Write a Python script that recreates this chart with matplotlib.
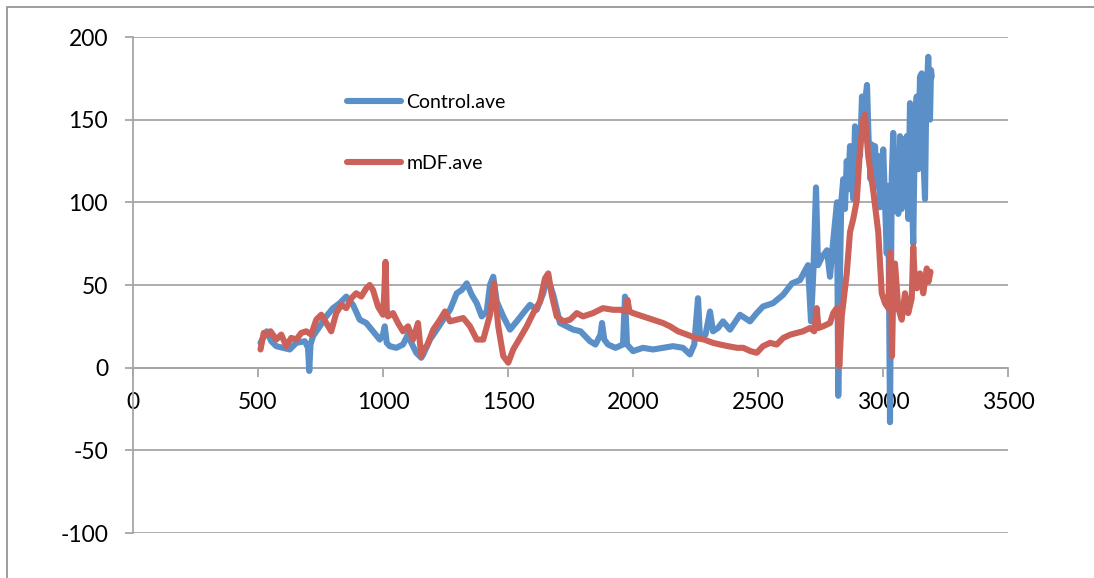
import matplotlib
matplotlib.use("Agg")
import matplotlib.pyplot as plt
from matplotlib.patches import Rectangle

# values (x = position, y = average)
control_x = [510, 520, 535, 553, 573, 600, 627, 653, 687, 700, 705, 710, 720, 747, 773, 800, 827, 853, 880, 907,
             933, 960, 987, 1000, 1007, 1015, 1027, 1053, 1080, 1100, 1107, 1133, 1153, 1161, 1188, 1215, 1241, 1268,
             1295, 1315, 1335, 1355, 1375, 1395, 1415, 1428, 1441, 1455, 1481, 1508, 1535, 1561, 1588, 1615, 1641,
             1655, 1668, 1681, 1708, 1735, 1761, 1790, 1828, 1850, 1870, 1876, 1885, 1900, 1930, 1960, 1968, 1976,
             2000, 2040, 2080, 2120, 2160, 2200, 2228, 2245, 2260, 2268, 2290, 2308, 2320, 2340, 2360, 2388, 2428,
             2468, 2495, 2520, 2560, 2600, 2636, 2668, 2700, 2712, 2722, 2732, 2740, 2756, 2776, 2788, 2801, 2816,
             2821, 2828, 2833, 2841, 2848, 2855, 2861, 2868, 2875, 2881, 2888, 2895, 2901, 2908, 2916, 2921, 2928,
             2936, 2942, 2950, 2955, 2962, 2968, 2975, 2981, 2988, 2995, 3001, 3008, 3015, 3021, 3028, 3035, 3041,
             3048, 3055, 3061, 3068, 3075, 3081, 3088, 3095, 3101, 3108, 3115, 3121, 3128, 3135, 3141, 3148, 3155,
             3161, 3168, 3172, 3176, 3181, 3188, 3192, 3195]
control_y = [15, 18, 22, 16, 13, 12, 11, 15, 16, 12, -2, 14, 19, 25, 31, 36, 39, 43, 38, 29,
             27, 22, 17, 20, 25, 15, 13, 12, 14, 20, 17, 9, 6, 8, 17, 23, 29, 35,
             45, 47, 51, 44, 39, 31, 34, 50, 55, 40, 31, 23, 28, 33, 38, 35, 45,
             53, 50, 44, 27, 25, 23, 22, 16, 14, 20, 27, 17, 14, 12, 14, 43, 14,
             10, 12, 11, 12, 13, 12, 8, 14, 42, 18, 20, 34, 22, 24, 28, 23, 32,
             28, 33, 37, 39, 44, 51, 53, 62, 28, 60, 109, 62, 67, 71, 55, 77, 100,
             -17, 57, 100, 114, 96, 125, 108, 134, 115, 102, 146, 120, 138, 128, 164, 140, 160,
             171, 140, 114, 135, 125, 134, 110, 128, 97, 120, 132, 100, 69, 110, -33, 115, 142,
             95, 130, 93, 140, 96, 138, 98, 140, 90, 160, 110, 75, 150, 164, 120, 176, 178,
             130, 102, 150, 170, 188, 150, 180, 176]

mdf_x = [510, 523, 537, 550, 573, 593, 613, 633, 653, 673, 693, 713, 733, 753, 773, 793, 813, 833, 853, 873,
         893, 913, 933, 947, 960, 980, 1000, 1005, 1010, 1015, 1020, 1040, 1060, 1080, 1100, 1120, 1140, 1153,
         1158, 1175, 1201, 1228, 1248, 1268, 1295, 1321, 1348, 1375, 1401, 1428, 1444, 1461, 1481, 1501, 1521,
         1548, 1575, 1601, 1628, 1648, 1661, 1675, 1695, 1721, 1748, 1775, 1800, 1840, 1880, 1920, 1950, 1970,
         1978, 1986, 2000, 2040, 2080, 2120, 2148, 2180, 2216, 2250, 2284, 2320, 2348, 2380, 2416, 2441, 2470,
         2495, 2520, 2548, 2575, 2601, 2630, 2655, 2680, 2708, 2725, 2735, 2742, 2760, 2788, 2801, 2815, 2820,
         2825, 2835, 2855, 2868, 2881, 2895, 2908, 2921, 2928, 2941, 2961, 2981, 2995, 3008, 3021, 3028, 3032,
         3036, 3042, 3048, 3061, 3075, 3088, 3101, 3115, 3121, 3128, 3135, 3148, 3161, 3175, 3182, 3190]
mdf_y = [11, 21, 20, 22, 17, 20, 13, 18, 17, 21, 22, 20, 29, 32, 27, 22, 33, 38, 36, 42,
         45, 43, 48, 50, 47, 37, 32, 45, 64, 35, 31, 33, 27, 22, 25, 17, 27, 7,
         11, 13, 23, 29, 34, 28, 29, 30, 25, 17, 17, 32, 51, 25, 7, 3, 11,
         18, 25, 33, 40, 54, 57, 44, 31, 28, 29, 33, 31, 33, 36, 35, 35, 34,
         41, 34, 33, 31, 29, 27, 25, 22, 20, 18, 17, 15, 14, 13, 12, 12, 10,
         9, 13, 15, 14, 18, 20, 21, 22, 24, 22, 36, 24, 25, 27, 33, 36, 30,
         1, 31, 57, 82, 90, 101, 132, 150, 153, 128, 107, 82, 45, 39, 36, 70, 60,
         7, 55, 63, 36, 29, 45, 33, 42, 73, 50, 48, 57, 45, 60, 52, 58]

x_ticks = [0, 500, 1000, 1500, 2000, 2500, 3000, 3500]
y_ticks = [-100, -50, 0, 50, 100, 150, 200]

blue = "#5B8FC8"
red = "#CC615A"
grey = "#A6A6A6"

plt.rcParams['font.family'] = ['Lato', 'DejaVu Sans']
plt.rcParams['axes.unicode_minus'] = False

fig = plt.figure(figsize=(10.94, 5.78), dpi=100)
ax = fig.add_axes([133/1094, 1 - 533/578, (1008 - 133)/1094, (533 - 37)/578])

# outer chart border (only left and top edges visible)
fig.patches.append(Rectangle((7/1094, -0.1), 1.2, 1.1 - 7/578, transform=fig.transFigure,
                             fill=False, edgecolor="#8C8C8C", linewidth=1.2))

ax.plot(control_x, control_y, color=blue, linewidth=4.4, solid_joinstyle='round',
        solid_capstyle='round', label="Control.ave", zorder=3)
ax.plot(mdf_x, mdf_y, color=red, linewidth=4.4, solid_joinstyle='round',
        solid_capstyle='round', label="mDF.ave", zorder=4)

ax.set_xlim(0, 3500)
ax.set_ylim(-100, 200)
ax.set_xticks(x_ticks)
ax.set_yticks(y_ticks)

for yv in y_ticks:
    ax.axhline(yv, color=grey, linewidth=1.3, zorder=1)

for s in ['top', 'right']:
    ax.spines[s].set_visible(False)
ax.spines['bottom'].set_position(('data', 0))
ax.spines['bottom'].set_color(grey)
ax.spines['left'].set_color(grey)
ax.spines['bottom'].set_linewidth(1.3)
ax.spines['left'].set_linewidth(1.3)

ax.tick_params(axis='x', direction='out', length=6.5, width=1.3, color=grey, pad=11, labelsize=16.5)
ax.tick_params(axis='y', direction='out', length=6, width=1.3, color=grey, pad=12, labelsize=16.5)

ax.legend(loc='upper left', bbox_to_anchor=(347/1094, 1 - 94/578), bbox_transform=fig.transFigure,
          frameon=False, fontsize=14, handlelength=2.8, handletextpad=0.25, labelspacing=2.25,
          borderpad=0, borderaxespad=0)

fig.savefig("out.png", dpi=100)
